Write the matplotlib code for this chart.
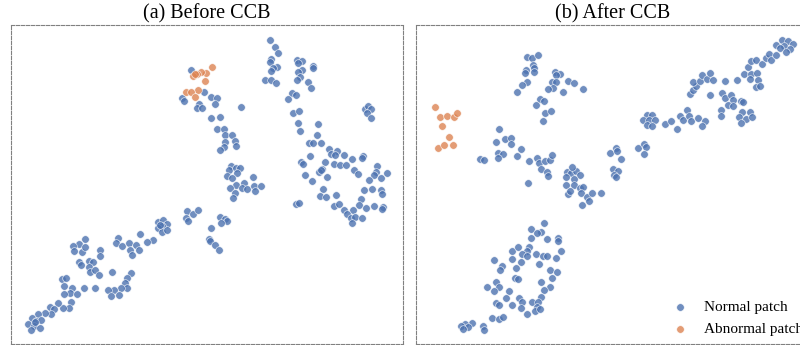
import numpy as np
import matplotlib
matplotlib.use("Agg")
import matplotlib.pyplot as plt

# t-SNE embedding (x, y with y growing downward)
a_normal = [
    (191, 70.3), (204.3, 92.3), (182.3, 98.3), (184.3, 101), (211, 96.7), (217, 98),
    (198.7, 104), (196.7, 107.7), (202.3, 108.3), (214.7, 104.3), (241, 106.7),
    (210.7, 118.3), (220, 117), (216.7, 129.3), (224, 129.3), (224.7, 135.3), (231.7, 135),
    (224.7, 141.7), (235.3, 141.3), (223.7, 147), (219.7, 149.7), (236, 146),
    (231, 166), (229.3, 170.3), (235.7, 167.7), (240.3, 167.7), (237, 173.3), (227, 175.7),
    (232.3, 178.3), (252.7, 177.3), (236.3, 184.7), (244, 183.3), (242.3, 187.7), (247, 189),
    (254, 186), (261, 186.3), (230, 188), (235, 192.7), (233.3, 197.7), (255, 191),
    (270.3, 39.7), (275, 47.3), (278, 53), (271, 59), (270, 61.7), (277.3, 67), (273.3, 68.3),
    (271, 70.7), (264.7, 79.7), (271, 79.7), (275.7, 82.7), (296.7, 60.3), (302, 60.7),
    (298.3, 63.3), (312.7, 66), (313, 68), (302, 70), (297.7, 71.7), (300.3, 77), (297.3, 80),
    (307.7, 82), (310.7, 88), (291.7, 93.3), (295.7, 95.3), (287.7, 99), (293, 112.7),
    (299.3, 111), (298.3, 123), (300.3, 130.7), (317.7, 124.3), (317, 135), (309.3, 143.3),
    (313, 142.7), (321, 142.7), (328.7, 149), (337, 150.7), (331, 154), (335, 155.3),
    (344.3, 155.3), (352.3, 158.7), (362.7, 156), (362.3, 158), (310, 155.7), (301.3, 162),
    (302.7, 164), (324.7, 161.7), (334, 163.7), (339.7, 165.3), (346, 164.7), (322.3, 168.7),
    (318.7, 172), (320.7, 170.3), (354.3, 170.3), (358.3, 174.3), (377.3, 166), (375.7, 172.3),
    (374, 174.7), (381.3, 178), (386.7, 172.7), (368.7, 179.7), (305.3, 175), (311.7, 180.7),
    (327, 176.7), (323.3, 189), (319.7, 195.7), (326, 197.3), (336, 195.3), (364, 190),
    (372, 189.3), (381, 190), (381.7, 193.7), (361, 199.3), (296, 204), (298.7, 203.3),
    (334, 206.3), (338.7, 204), (359, 205), (374, 205.7), (383.3, 206.7), (381.7, 209),
    (343.7, 209.7), (352.7, 209.7), (365.7, 208), (347.3, 214.3), (351, 218), (355, 217),
    (361.7, 218), (351.7, 223), (365, 109), (368.3, 106), (370.7, 109), (367, 112.7),
    (370.7, 118.3),
    (186.7, 210.7), (193.3, 213.7), (198.3, 210), (186, 217.7), (187.7, 220.7),
    (157.7, 222.3), (162.7, 220), (166.7, 223.7), (162, 225.7), (157.7, 228.3), (162.3, 231.7),
    (166.7, 230), (160, 224.7), (140.3, 234), (153, 240), (147, 242.3), (118.3, 238),
    (115.7, 242.7), (121.7, 246), (128.7, 243), (135.7, 245.3), (130, 249.7), (139, 249.7),
    (132.3, 255.3), (85, 239), (78.7, 243.7), (72.7, 246.3), (74.3, 251), (81.7, 251.7),
    (85.3, 247.3), (100.3, 250), (100, 256.3), (79.3, 262), (81.3, 264.7), (88.7, 261),
    (93.3, 262), (89, 267.3), (90.3, 272), (95.3, 270), (98.7, 275), (112.3, 272.3),
    (130.7, 273), (127, 277.7), (124.7, 283.3), (127.3, 287.7), (121, 288), (114.3, 290.3),
    (108, 289.7), (111, 296.3), (119.3, 295), (83.7, 288), (95, 288), (61.7, 279.3),
    (65.7, 278.3), (64.3, 286.3), (71.7, 287.7), (70, 293), (64.3, 294.3), (76.7, 294),
    (71.3, 302.3), (68.7, 308.3), (63, 308.3), (58.3, 303), (49.7, 306.7), (54, 309.3),
    (51, 314.3), (44.7, 313), (38, 313.7), (31.7, 318), (36, 320.7), (41.3, 319.7),
    (28.3, 324), (34.3, 326), (39.7, 328.3), (31, 330), (35, 322.3),
    (220, 217), (225, 218.7), (227, 221), (220.7, 223), (211, 228.3), (209, 239),
    (210, 240.7), (215.3, 245.3), (219.3, 250.3),
]
a_abnormal = [
    (211.7, 67.3), (205.7, 73), (201, 72.3), (196.7, 74), (193.3, 75.7), (195, 74.3),
    (205.3, 81), (197.7, 90), (186, 92), (190.7, 92), (195, 96.7),
]

b_normal = [
    (527.3, 56.7), (532, 57.7), (538, 54.7), (533.3, 64.7), (534.3, 68), (534.3, 72),
    (525.7, 69.7), (524.7, 73.3), (526.7, 82), (521.7, 85), (517, 92), (555, 71.7),
    (560, 74.3), (556, 75.3), (551.7, 82.3), (556.3, 82.3), (552.7, 88), (548, 89),
    (568, 81), (574.3, 82.7), (583, 88.7), (563.3, 92), (539.7, 99.3), (544.3, 100.7),
    (536, 104.7), (544.7, 112.7), (551.3, 110.7), (543.3, 121),
    (498.7, 129.3), (495.7, 142.3), (504.7, 139.3), (510.7, 138), (511, 144), (521.3, 149.3),
    (516.7, 156.3), (497.7, 153.3), (503, 154.3), (498.3, 158), (480.3, 159), (483.7, 160),
    (528.7, 161), (536.7, 157.7), (539.3, 163), (545, 161), (550, 160.3), (551.7, 155),
    (540.7, 168.7), (546.7, 172), (548.3, 176), (527.7, 183.3),
    (566.7, 171.7), (571.3, 172.7), (576, 170.7), (572, 166.7), (580, 175), (565.7, 176.7),
    (573.7, 179), (566, 185.3), (573.7, 185.3), (579.7, 188.3), (583.3, 186.7), (567.7, 194),
    (569.7, 191), (581.3, 193.3), (587.3, 197.3), (589, 201.3), (582.3, 205), (592, 192.7),
    (601.3, 193),
    (646.7, 115), (651.7, 115), (643.3, 120), (649.3, 120), (655, 120), (646.7, 125),
    (651.7, 125.7), (664.7, 124.3), (670.7, 121.3), (676.7, 129), (680, 115.7), (687.3, 110.3),
    (683.3, 120), (688.7, 116), (691, 121.3), (698.3, 118.3), (704.7, 121), (702.3, 125.7),
    (689.7, 94.3), (692.7, 90), (696, 85.7), (693.3, 81.7), (700, 81), (702, 74.7),
    (706.7, 79), (710, 73.3), (712.7, 79.7), (710, 95.3), (725, 80.7), (736.7, 80),
    (721.7, 92.7), (725.3, 97.7), (730.7, 95.3), (733.3, 100), (727.7, 105), (733.3, 105.7),
    (740.7, 100.7), (743.3, 102), (721.3, 110), (721, 116), (742.3, 112), (739, 116.7),
    (746, 119.3), (750, 112.3), (751.7, 116.7), (740.7, 123.3), (743.7, 74), (750.7, 73.7),
    (750, 79), (757, 72.7), (757.7, 80), (756, 87.3), (760, 86), (748.3, 66.7), (750.7, 60.7),
    (756, 60), (762, 64.3), (765.7, 57.7), (769.3, 54), (770.7, 60.3), (776.3, 54.7),
    (775.7, 45), (782, 40), (788.3, 41.3), (792.7, 44), (784.3, 45.7), (780, 48.3), (790, 49),
    (785.7, 51.7), (610, 152.7), (616, 148), (616.7, 150.7), (621, 159), (638.3, 148.3),
    (644, 144), (645.7, 147.3), (644, 153.7), (613.3, 169), (618.3, 170.7), (614.3, 175),
    (616, 177),
    (543.7, 223.3), (531, 228.7), (540.7, 232), (536.7, 233.3), (531, 237.7), (547, 238.7),
    (557.7, 238.3), (558, 240.7), (512, 251), (518.3, 247.3), (528.7, 246.7), (526.7, 251),
    (521.7, 254.3), (526.7, 256), (536, 254), (543.3, 255.7), (547, 255.7), (560.7, 251.3),
    (556, 258.3), (494.3, 260), (511.7, 258.7), (502.3, 265.7), (500, 270), (520.7, 262),
    (515.7, 268), (539.3, 264), (550, 270), (556.7, 272.3), (552, 277.7), (541, 282),
    (515, 277.7), (518.3, 279.3), (495.7, 281.7), (499, 286.7), (493.7, 291.3), (486.7, 287.3),
    (508.7, 290.7), (549.7, 287.3), (544, 290), (540.7, 296.7), (506, 298.3), (519.3, 297.7),
    (521.7, 301.7), (511.7, 305), (496.3, 302.7), (498.7, 304.7), (531.7, 301.7), (538.3, 302),
    (536.7, 306.7), (534.7, 311), (540, 308.7), (527.3, 313.7), (521, 308.3), (492, 318.3),
    (499.3, 319.3), (502.7, 316.7), (471.7, 322.7), (465, 324), (460.7, 325.7), (468.3, 326.7),
    (463.3, 329.3), (482.7, 326), (484, 330.3),
]
b_abnormal = [
    (434.7, 107.3), (440.3, 116.7), (447, 115.7), (454, 116.7), (456.7, 112.7),
    (442.3, 126.3), (448.7, 137), (438.3, 148), (443.7, 145), (452.7, 145),
]

titles = ["(a) Before CCB", "(b) After CCB"]
labels = ["Normal patch", "Abnormal patch"]
blue = "#4c72b0"
orange = "#dd8452"

plt.rcParams["font.family"] = ["Liberation Serif", "DejaVu Serif"]

fig = plt.figure(figsize=(8, 3.45), dpi=100)
ax1 = fig.add_axes([0.01375, 0.0043, 0.4906, 0.9232])
ax2 = fig.add_axes([0.52, 0.0043, 0.4906, 0.9232])

panels = [(ax1, a_normal, a_abnormal, (11, 403.5)),
          (ax2, b_normal, b_abnormal, (416, 808.5))]

for i, (ax, norm, abn, xl) in enumerate(panels):
    norm = np.array(norm)
    abn = np.array(abn)
    ax.scatter(norm[:, 0], norm[:, 1], s=30, c=blue, alpha=0.8,
               edgecolors="white", linewidths=0.5, label=labels[0])
    ax.scatter(abn[:, 0], abn[:, 1], s=30, c=orange, alpha=0.8,
               edgecolors="white", linewidths=0.5, label=labels[1])
    ax.set_xlim(*xl)
    ax.set_ylim(343.5, 25)
    ax.set_xticks([])
    ax.set_yticks([])
    for sp in ax.spines.values():
        sp.set_linestyle((0, (3, 1.5)))
        sp.set_color("#808080")
        sp.set_linewidth(0.8)
    ax.set_title(titles[i], fontsize=14.5, pad=5)

ax2.legend(loc="lower left", bbox_to_anchor=(0.8175, -0.004), bbox_transform=fig.transFigure,
           frameon=False, fontsize=11, handletextpad=0.6, labelspacing=0.55,
           borderaxespad=0.3)

fig.savefig("out.png", dpi=100)
